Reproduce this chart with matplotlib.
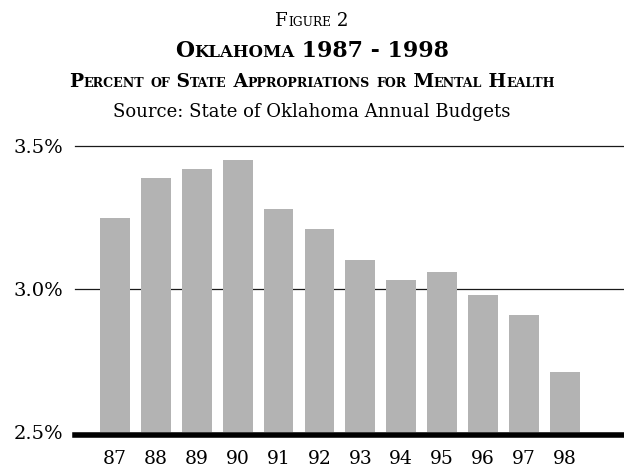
import matplotlib
matplotlib.use("Agg")
import matplotlib.pyplot as plt

years = ["87", "88", "89", "90", "91", "92", "93", "94", "95", "96", "97", "98"]
pct = [3.25, 3.39, 3.42, 3.45, 3.28, 3.21, 3.10, 3.03, 3.06, 2.98, 2.91, 2.71]
y_ticks = [2.5, 3.0, 3.5]
y_labels = ["2.5%", "3.0%", "3.5%"]

plt.rcParams["font.family"] = "DejaVu Serif"

fig = plt.figure(figsize=(6.24, 4.68), dpi=100)
ax = fig.add_axes([0.1202, 0.0769, 0.8798, 0.611])


def caps_line(y, text, big, small, weight="normal"):
    # fake small caps: lowercase letters drawn as smaller capitals
    parts = []
    for ch in text:
        size = small if ch.islower() else big
        if parts and parts[-1][1] == size:
            parts[-1][0] += ch.upper()
        else:
            parts.append([ch.upper(), size])
    r = fig.canvas.get_renderer()
    texts = [fig.text(0, y, s, fontsize=sz, fontweight=weight, va="baseline")
             for s, sz in parts]
    widths = [t.get_window_extent(r).width for t in texts]
    x0 = (fig.bbox.width - sum(widths)) / 2
    for t, w in zip(texts, widths):
        t.set_x(x0 / fig.bbox.width)
        x0 += w


x = list(range(len(years)))
ax.bar(x, pct, width=0.73, color="#b3b3b3", zorder=2)
for v in [3.0, 3.5]:
    ax.axhline(v, color="#1a1a1a", lw=0.9, zorder=1, clip_on=False)

ax.set_xlim(-0.98, 12.45)
ax.set_ylim(2.5, 3.5)
for s in ["left", "right", "top"]:
    ax.spines[s].set_visible(False)
ax.spines["bottom"].set_linewidth(4)
ax.spines["bottom"].set_position(("outward", 2))
ax.spines["bottom"].set_zorder(3)

ax.set_xticks(x, years, fontsize=13.5)
ax.set_yticks(y_ticks, y_labels, fontsize=14)
ax.tick_params(axis="both", length=0)
ax.tick_params(axis="x", pad=11)
ax.tick_params(axis="y", pad=8.6)

caps_line(0.9444, "Figure 2", 13.2, 8.8)
caps_line(0.8789, "Oklahoma 1987 - 1998", 15.8, 11.9, "bold")
caps_line(0.8135, "Percent of State Appropriations for Mental Health", 13.5, 9.1, "bold")
fig.text(0.5, 0.751, "Source: State of Oklahoma Annual Budgets", ha="center",
         va="baseline", fontsize=13)

fig.savefig("out.png", dpi=100)
